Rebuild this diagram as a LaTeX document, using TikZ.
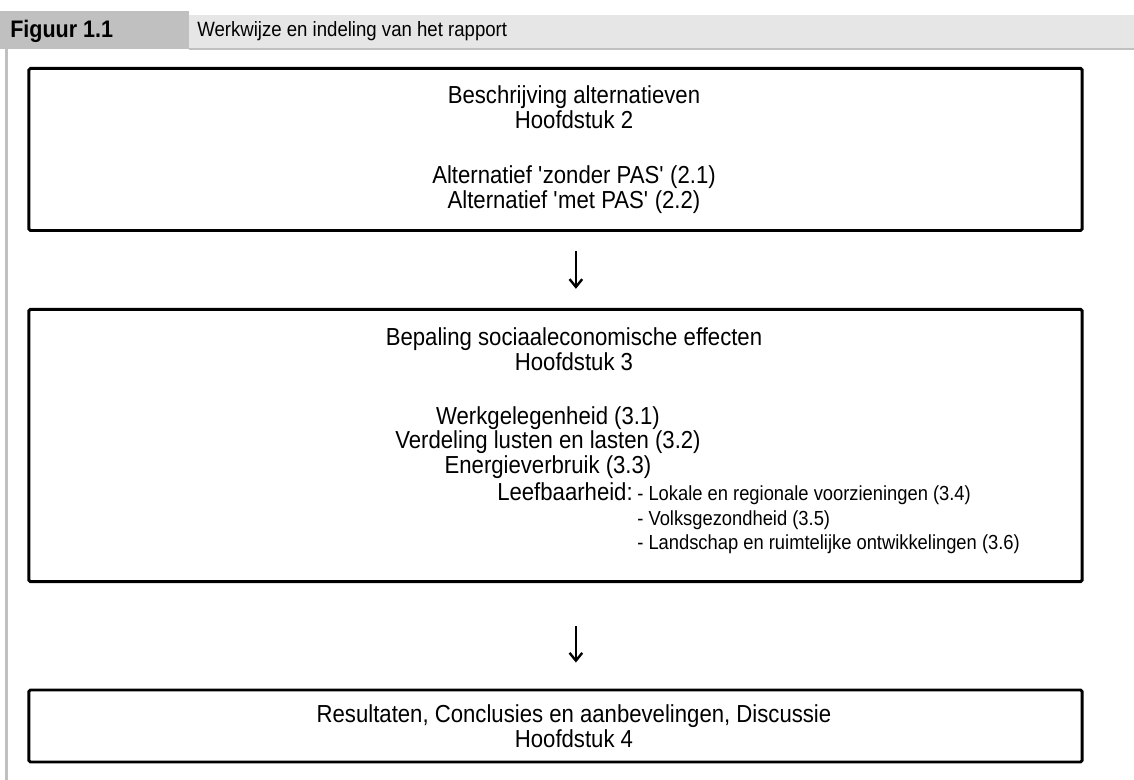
\documentclass[tikz,border=0pt]{standalone}
\usepackage{fontspec}
\setmainfont{Liberation Sans}[FakeStretch=0.9]
\usetikzlibrary{arrows.meta, positioning, calc}

\definecolor{hdrdark}{HTML}{C0C0C0}
\definecolor{hdrlight}{HTML}{E6E6E6}

\begin{document}
\begin{tikzpicture}[
    x=0.025cm, y=-0.025cm,
    % Styles
    box/.style={draw, line width=2.1pt, rounded corners=1pt, minimum width=26.32cm, inner sep=0pt},
    txt/.style={align=center, inner sep=0pt, font=\fontsize{17.5}{17.6}\selectfont},
    sub/.style={anchor=base west, inner sep=0pt, font=\fontsize{14.5}{16}\selectfont},
    flow/.style={-{Straight Barb[length=5.5pt, width=9pt]}, line width=1.7pt}
]
    \useasboundingbox (0,0) rectangle (1134,780);

    % --- HEADER ---
    \fill[hdrdark] (0,11) rectangle (189,49);
    \fill[hdrlight] (189,15) rectangle (1134,48);
    \fill[hdrdark] (189,48) rectangle (1134,50);
    \fill[hdrdark] (5,49) rectangle (8,780);
    \node[anchor=west, inner sep=0pt, font=\fontsize{17}{18}\selectfont\bfseries] (fig) at (10,31) {Figuur 1.1};
    \node[anchor=west, inner sep=0pt, font=\fontsize{14.7}{16}\selectfont] (title) at (197,31) {Werkwijze en indeling van het rapport};

    % --- BOXES ---
    \node[box, minimum height=4.05cm] (alt) at (555.5,149.5) {};
    \node[box, minimum height=6.8cm] (eff) at (555.5,445.5) {};
    \node[box, minimum height=1.8cm] (res) at (555.5,726) {};

    % Box 1: alternatives
    \node[txt] (altHead) at (574,107) {Beschrijving alternatieven\\Hoofdstuk 2};
    \node[txt] (altList) at (574,189.5) {Alternatief \textquotesingle zonder PAS\textquotesingle{} (2.1)\\Alternatief \textquotesingle met PAS\textquotesingle{} (2.2)};

    % Box 2: effects
    \node[txt] (effHead) at (574,349) {Bepaling sociaaleconomische effecten\\Hoofdstuk 3};
    \node[txt] (effList) at (548,442.5) {Werkgelegenheid (3.1)\\Verdeling lusten en lasten (3.2)\\Energieverbruik (3.3)};
    \node[txt, anchor=west] (live) at (497,492) {Leefbaarheid:};
    \node[sub] (live1) at ([xshift=0.1cm]live.base east) {- Lokale en regionale voorzieningen (3.4)};
    \node[sub] (live2) at ([yshift=-0.62cm]live1.base west) {- Volksgezondheid (3.5)};
    \node[sub] (live3) at ([yshift=-0.6cm]live2.base west) {- Landschap en ruimtelijke ontwikkelingen (3.6)};

    % Box 3: results
    \node[txt] (resText) at (574,726) {Resultaten, Conclusies en aanbevelingen, Discussie\\Hoofdstuk 4};

    % --- ARROWS ---
    \draw[flow] ([xshift=0.51cm, yshift=-0.48cm]alt.south) -- ([xshift=0.51cm, yshift=0.48cm]eff.north);
    \draw[flow] ([xshift=0.51cm, yshift=-1.07cm]eff.south) -- ([xshift=0.51cm, yshift=0.65cm]res.north);

\end{tikzpicture}
\end{document}
